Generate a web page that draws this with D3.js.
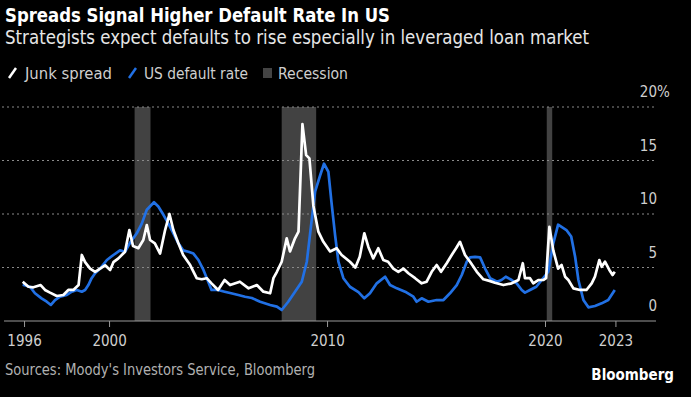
<!DOCTYPE html>
<html>
<head>
<meta charset="utf-8">
<script src="https://cdn.jsdelivr.net/npm/d3@7"></script>
<style>
  html, body { margin: 0; padding: 0; background: #000; }
  text { font-family: "Liberation Sans Narrow", "DejaVu Sans Condensed", "Roboto", sans-serif; }
</style>
</head>
<body>
<div id="chart"></div>
<script>
// decimal year, value (%)
const junkSpread = [
  [1996.04, 3.67], [1996.3, 3.2], [1996.53, 3.15], [1996.86, 3.36], [1997.06, 2.9], [1997.29, 2.65],
  [1997.6, 2.34], [1997.9, 2.43], [1998.13, 2.9], [1998.36, 2.9], [1998.6, 3.36], [1998.75, 6.17],
  [1998.9, 5.5], [1999.13, 4.9], [1999.36, 4.6], [1999.59, 4.9], [1999.82, 5.2], [2000.05, 4.77],
  [2000.2, 5.5], [2000.43, 5.85], [2000.73, 6.47], [2000.93, 8.5], [2001.1, 7.0], [2001.34, 6.8],
  [2001.57, 7.57], [2001.73, 8.97], [2001.88, 7.57], [2002.1, 7.26], [2002.34, 6.3], [2002.57, 8.5],
  [2002.77, 10.0], [2002.95, 8.5], [2003.18, 7.26], [2003.4, 6.17], [2003.72, 5.23], [2004.02, 4.0],
  [2004.25, 3.9], [2004.48, 4.0], [2004.7, 3.52], [2005.0, 2.9], [2005.3, 3.83], [2005.55, 3.36],
  [2006.0, 3.67], [2006.4, 3.05], [2006.78, 3.36], [2007.08, 2.74], [2007.39, 2.59], [2007.54, 4.0],
  [2007.7, 4.6], [2007.92, 5.54], [2008.15, 7.73], [2008.3, 6.5], [2008.53, 7.73], [2008.69, 8.35],
  [2008.87, 18.4], [2009.04, 15.5], [2009.19, 15.2], [2009.37, 10.8], [2009.6, 8.35], [2009.83, 7.4],
  [2010.14, 6.5], [2010.44, 6.8], [2010.67, 6.17], [2011.05, 5.54], [2011.3, 5.0], [2011.5, 6.0],
  [2011.71, 8.2], [2011.9, 6.9], [2012.12, 5.85], [2012.35, 6.8], [2012.58, 5.7], [2012.8, 5.54],
  [2013.04, 4.9], [2013.27, 4.6], [2013.5, 4.9], [2013.73, 4.46], [2014.04, 4.0], [2014.34, 3.52],
  [2014.57, 3.67], [2014.8, 4.6], [2015.03, 5.23], [2015.23, 4.6], [2015.49, 5.4], [2015.72, 6.17],
  [2015.92, 6.8], [2016.1, 7.4], [2016.33, 6.17], [2016.56, 5.54], [2016.87, 4.6], [2017.17, 3.9],
  [2017.45, 3.75], [2017.7, 3.58], [2018.09, 3.36], [2018.47, 3.52], [2018.78, 3.83], [2018.98, 5.4],
  [2019.08, 4.0], [2019.31, 4.0], [2019.46, 3.52], [2019.69, 3.83], [2019.92, 3.83], [2020.05, 4.0],
  [2020.2, 8.8], [2020.38, 6.6], [2020.6, 4.9], [2020.76, 5.23], [2020.92, 4.14], [2021.07, 3.83],
  [2021.3, 3.05], [2021.6, 2.9], [2021.9, 2.9], [2022.14, 3.52], [2022.29, 4.14], [2022.49, 5.7],
  [2022.6, 5.07], [2022.75, 5.54], [2022.95, 4.77], [2023.1, 4.3], [2023.2, 4.6]
];

const defaultRate = [
  [1996.04, 3.4], [1996.37, 3.2], [1996.6, 2.59], [1996.9, 2.12], [1997.14, 1.8], [1997.33, 1.5],
  [1997.52, 1.96], [1997.75, 2.27], [1998.06, 2.43], [1998.29, 2.74], [1998.52, 2.9], [1998.75, 2.74],
  [1998.9, 2.9], [1999.05, 3.36], [1999.2, 4.0], [1999.36, 4.46], [1999.59, 4.9], [1999.9, 5.7],
  [2000.2, 6.17], [2000.5, 6.6], [2000.73, 6.47], [2000.96, 7.3], [2001.27, 8.2], [2001.5, 9.1],
  [2001.73, 10.4], [2002.06, 11.1], [2002.26, 10.7], [2002.5, 9.9], [2002.72, 9.1], [2002.95, 8.2],
  [2003.18, 7.26], [2003.4, 6.6], [2003.64, 6.47], [2003.87, 6.3], [2004.1, 5.7], [2004.33, 4.77],
  [2004.55, 3.67], [2004.7, 2.9], [2005.0, 2.9], [2005.3, 2.74], [2005.6, 2.59], [2005.93, 2.43],
  [2006.24, 2.27], [2006.55, 2.15], [2006.93, 1.8], [2007.39, 1.5], [2007.7, 1.34], [2007.92, 1.03],
  [2008.22, 1.8], [2008.53, 2.74], [2008.84, 3.67], [2009.07, 5.54], [2009.27, 9.0], [2009.45, 12.1],
  [2009.68, 13.6], [2009.86, 14.7], [2010.06, 13.95], [2010.2, 11.15], [2010.37, 8.0], [2010.52, 5.54],
  [2010.75, 4.0], [2011.05, 3.2], [2011.44, 2.7], [2011.71, 2.12], [2011.97, 2.59], [2012.28, 3.52],
  [2012.66, 4.14], [2012.89, 3.36], [2013.2, 3.05], [2013.58, 2.74], [2013.96, 2.27], [2014.11, 1.8],
  [2014.34, 2.12], [2014.65, 1.8], [2015.03, 1.96], [2015.34, 1.96], [2015.64, 2.59], [2015.95, 3.36],
  [2016.18, 4.3], [2016.41, 5.54], [2016.56, 5.95], [2016.79, 6.0], [2017.02, 5.95], [2017.25, 4.9],
  [2017.48, 4.0], [2017.8, 3.67], [2018.0, 3.83], [2018.2, 4.14], [2018.47, 3.83], [2018.7, 3.52],
  [2018.93, 2.9], [2019.08, 2.65], [2019.31, 2.9], [2019.6, 3.2], [2019.92, 4.0], [2020.15, 4.6],
  [2020.38, 7.26], [2020.6, 9.0], [2020.98, 8.5], [2021.2, 7.9], [2021.38, 6.0], [2021.53, 3.83],
  [2021.76, 1.96], [2021.99, 1.28], [2022.29, 1.4], [2022.6, 1.65], [2022.9, 1.96], [2023.2, 2.9]
];

// recession start / end
const recessions = [[2001.17, 2001.9], [2007.92, 2009.5], [2020.08, 2020.33]];

const xTickYears = [1996.1, 2000, 2010, 2020, 2023.23];
const xTickLabels = ["1996", "2000", "2010", "2020", "2023"];
const yTicks = [0, 5, 10, 15, 20];

const W = 691, H = 397;
const margin = {top: 107, right: 35, bottom: 76, left: 4};

// decimal year -> Date
function yr(v) {
  const y = Math.floor(v);
  const a = new Date(y, 0, 1), b = new Date(y + 1, 0, 1);
  return new Date(+a + (v - y) * (b - a));
}

const svg = d3.select("#chart")
  .append("svg")
  .attr("width", W)
  .attr("height", H)
  .style("background", "#000");

const x = d3.scaleTime()
  .domain([yr(1995.18), yr(2025.09)])
  .range([margin.left, W - margin.right]);

const y = d3.scaleLinear()
  .domain([0, 20])
  .range([H - margin.bottom, margin.top]);

// titles
svg.append("text")
  .attr("x", 5).attr("y", 22)
  .attr("fill", "#fff")
  .attr("font-size", 20).attr("font-weight", "bold")
  .attr("textLength", 385).attr("lengthAdjust", "spacingAndGlyphs")
  .text("Spreads Signal Higher Default Rate In US");

svg.append("text")
  .attr("x", 5).attr("y", 44)
  .attr("fill", "#e6e6e6")
  .attr("font-size", 19)
  .attr("textLength", 584).attr("lengthAdjust", "spacingAndGlyphs")
  .text("Strategists expect defaults to rise especially in leveraged loan market");

// legend
const legend = svg.append("g").attr("class", "legend");
legend.append("line").attr("x1", 9).attr("y1", 78).attr("x2", 16).attr("y2", 68)
  .attr("stroke", "#fff").attr("stroke-width", 2.5);
legend.append("text").attr("x", 25).attr("y", 79).attr("textLength", 87).text("Junk spread");
legend.append("line").attr("x1", 129).attr("y1", 78).attr("x2", 136).attr("y2", 68)
  .attr("stroke", "#2170e4").attr("stroke-width", 2.5);
legend.append("text").attr("x", 144).attr("y", 79).attr("textLength", 104).text("US default rate");
legend.append("rect").attr("x", 263).attr("y", 68).attr("width", 9).attr("height", 10).attr("fill", "#444");
legend.append("text").attr("x", 278).attr("y", 79).attr("textLength", 70).text("Recession");
legend.selectAll("text")
  .attr("fill", "#cfcfcf").attr("font-size", 16)
  .attr("lengthAdjust", "spacingAndGlyphs");

// recession bands
svg.append("g")
  .selectAll("rect")
  .data(recessions)
  .join("rect")
  .attr("x", d => x(yr(d[0])))
  .attr("width", d => x(yr(d[1])) - x(yr(d[0])))
  .attr("y", y(20))
  .attr("height", y(0) - y(20))
  .attr("fill", "#424242");

// gridlines
svg.append("g")
  .selectAll("line")
  .data(yTicks.filter(d => d > 0))
  .join("line")
  .attr("x1", margin.left - 2).attr("x2", W - margin.right - 1)
  .attr("y1", d => y(d)).attr("y2", d => y(d))
  .attr("stroke", "#8a8a8a").attr("stroke-width", 1)
  .attr("stroke-dasharray", "2,3");

// y labels, above the gridlines
const yLab = svg.append("g");
yLab.selectAll("text")
  .data(yTicks)
  .join("text")
  .attr("x", W - margin.right + 1)
  .attr("y", d => y(d) - 15)
  .attr("dy", "0.35em")
  .attr("text-anchor", "end")
  .attr("fill", "#cfcfcf")
  .attr("font-size", 15)
  .text(d => d);
yLab.append("text")
  .attr("x", W - margin.right + 1)
  .attr("y", y(20) - 15)
  .attr("dy", "0.35em")
  .attr("fill", "#cfcfcf")
  .attr("font-size", 15)
  .text("%");

// x axis
const xAxis = svg.append("g")
  .attr("transform", `translate(0,${y(0)})`)
  .call(d3.axisBottom(x)
    .tickValues(xTickYears.map(yr))
    .tickSize(6)
    .tickPadding(8)
    .tickFormat((d, i) => xTickLabels[i]));
xAxis.select(".domain").attr("stroke", "#9a9a9a").attr("d", `M${margin.left},0H${W - margin.right}`);
xAxis.selectAll(".tick line").attr("stroke", "#9a9a9a");
xAxis.selectAll(".tick text")
  .attr("fill", "#cfcfcf")
  .attr("font-size", 15)
  .attr("font-family", null);

// lines
const line = d3.line()
  .x(d => x(yr(d[0])))
  .y(d => y(d[1]));

svg.append("path")
  .datum(defaultRate)
  .attr("d", line)
  .attr("fill", "none")
  .attr("stroke", "#2170e4")
  .attr("stroke-width", 2.7)
  .attr("stroke-linejoin", "round");

svg.append("path")
  .datum(junkSpread)
  .attr("d", line)
  .attr("fill", "none")
  .attr("stroke", "#fff")
  .attr("stroke-width", 2.7)
  .attr("stroke-linejoin", "round");

// footer
svg.append("text")
  .attr("x", 5).attr("y", 375)
  .attr("fill", "#b0b0b0")
  .attr("font-size", 15)
  .attr("textLength", 310).attr("lengthAdjust", "spacingAndGlyphs")
  .text("Sources: Moody's Investors Service, Bloomberg");

svg.append("text")
  .attr("x", 674).attr("y", 380)
  .attr("text-anchor", "end")
  .attr("fill", "#fff")
  .attr("font-size", 15).attr("font-weight", "bold")
  .text("Bloomberg");
</script>
</body>
</html>
